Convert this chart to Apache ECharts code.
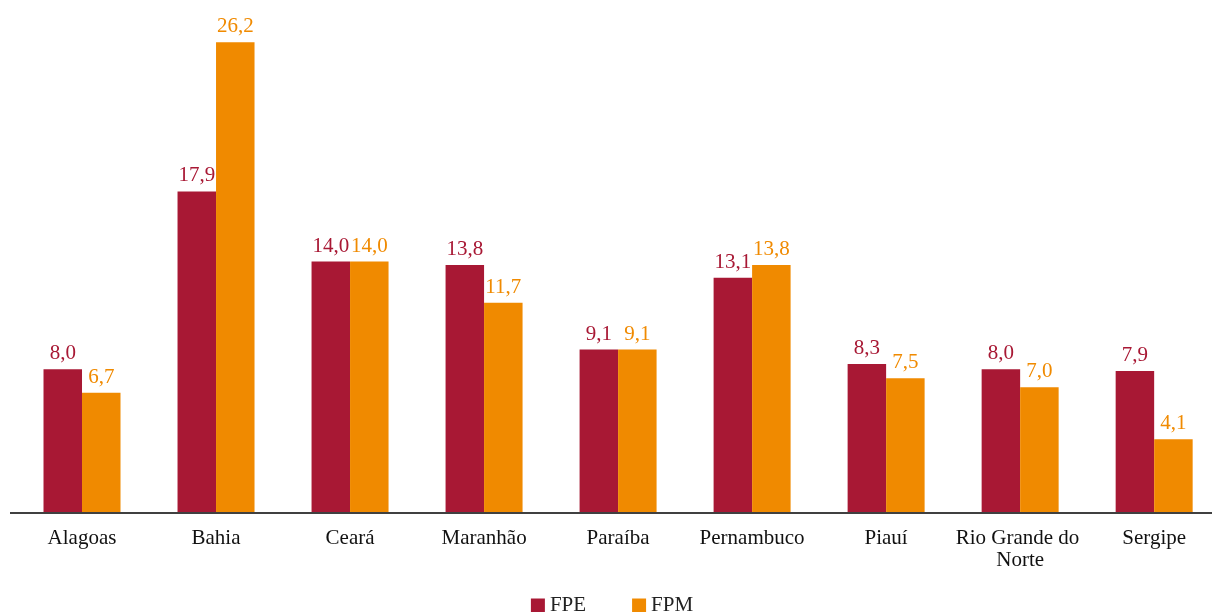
<!DOCTYPE html>
<html><head><meta charset="utf-8">
<script src="https://cdn.jsdelivr.net/npm/echarts@6/dist/echarts.min.js"></script>
<style>html,body{margin:0;padding:0;background:#fff;overflow:hidden}#c{width:1224px;height:612px}</style>
</head><body><div id="c"></div>
<script>
const categories = ["Alagoas","Bahia","Ceará","Maranhão","Paraíba","Pernambuco","Piauí","Rio Grande do Norte","Sergipe"];
const fpe = [8.0,17.9,14.0,13.8,9.1,13.1,8.3,8.0,7.9];
const fpm = [6.7,26.2,14.0,11.7,9.1,13.8,7.5,7.0,4.1];
const seriesNames = ["FPE","FPM"];
const colors = ["#A81834","#F08A00"];
const font = "'Liberation Serif','Times New Roman',serif";
const chart = echarts.init(document.getElementById('c'));
const fmt = p => p.value.toFixed(1).replace('.', ',');
chart.setOption({
  animation:false,
  textStyle:{fontFamily:font},
  grid:{left:15,right:0,top:10,bottom:99,containLabel:false},
  legend:{top:590,left:'center',itemWidth:14,itemHeight:14,itemGap:46,icon:'rect',
    textStyle:{fontFamily:font,fontSize:21,color:'#222'},data:seriesNames},
  xAxis:{type:'category',data:categories,
    axisLine:{show:false},axisTick:{show:false},
    axisLabel:{interval:0,fontFamily:font,fontSize:21,color:'#111',margin:14,width:134,overflow:'break',lineHeight:22}},
  yAxis:{type:'value',min:0,max:28,show:false,splitLine:{show:false}},
  graphic:[{type:'line',shape:{x1:10,y1:513,x2:1212,y2:513},style:{stroke:'#404040',lineWidth:2},z:10}],
  series:[
    {name:seriesNames[0],type:'bar',data:fpe,barWidth:38.5,barGap:'0%',itemStyle:{color:colors[0]},
     label:{show:true,position:'top',distance:5,formatter:fmt,fontFamily:font,fontSize:21,color:colors[0]}},
    {name:seriesNames[1],type:'bar',data:fpm,barWidth:38.5,barGap:'0%',itemStyle:{color:colors[1]},
     label:{show:true,position:'top',distance:5,formatter:fmt,fontFamily:font,fontSize:21,color:colors[1]}}
  ]
});
</script></body></html>
